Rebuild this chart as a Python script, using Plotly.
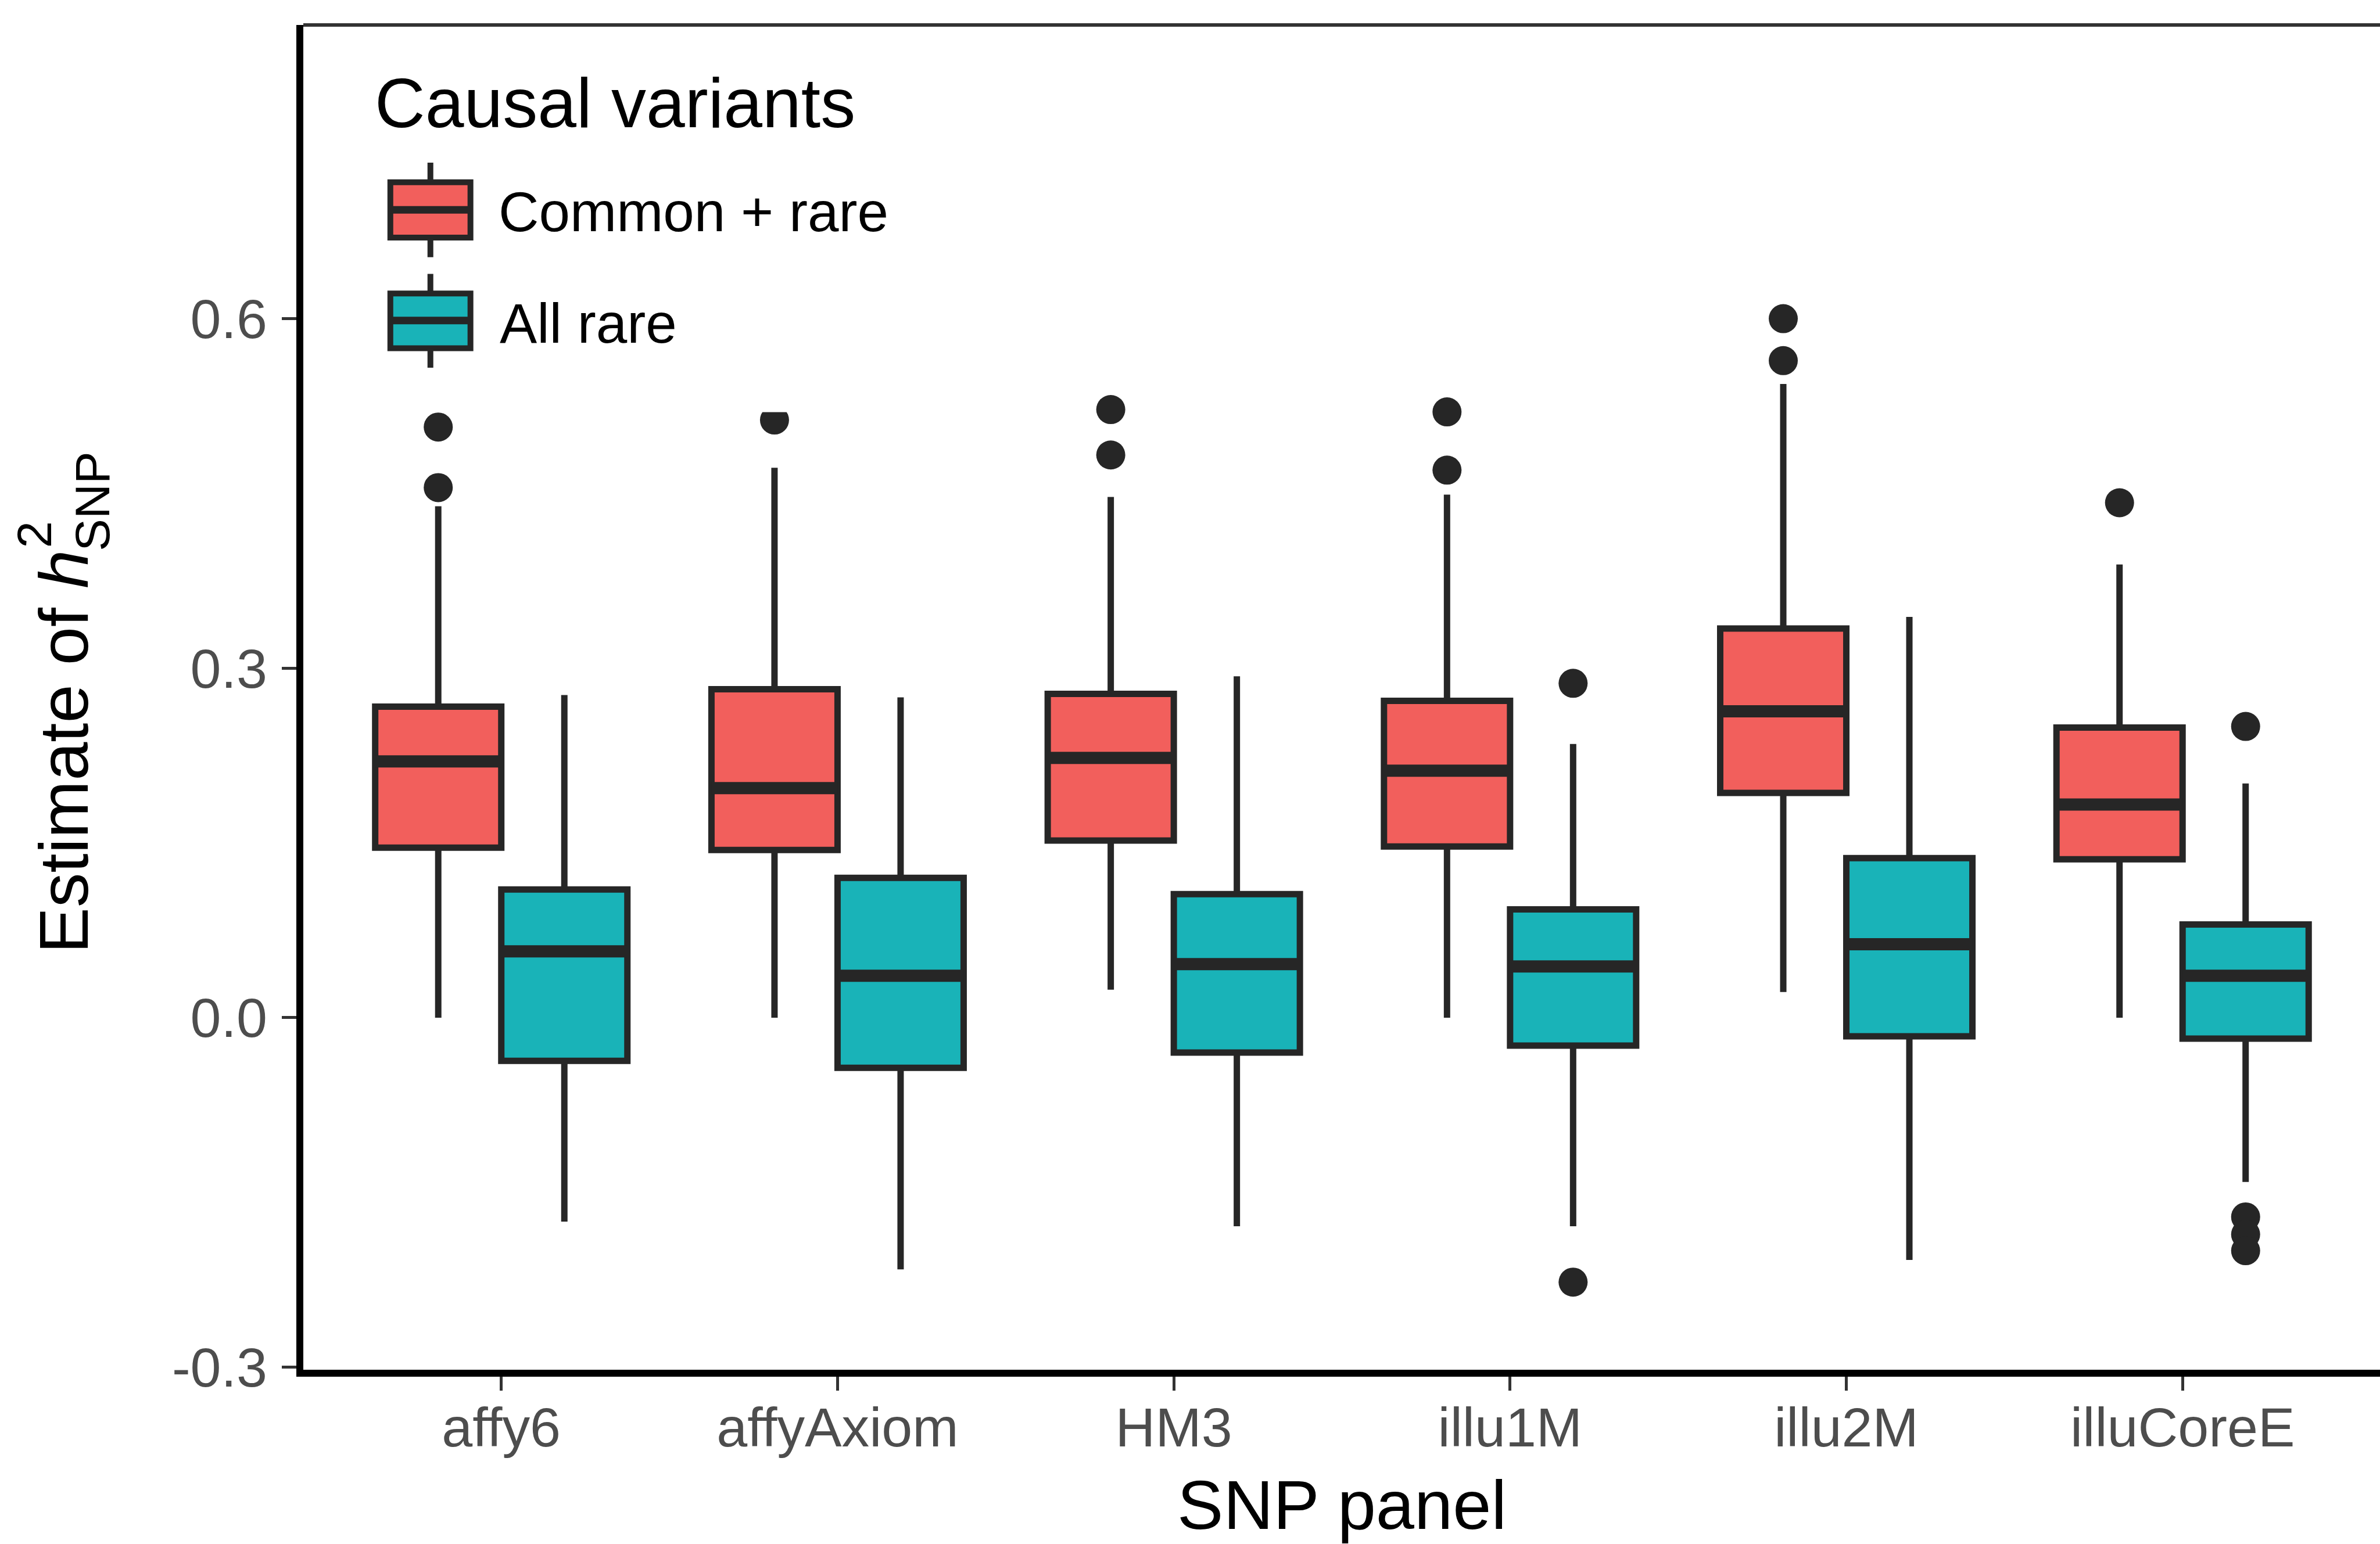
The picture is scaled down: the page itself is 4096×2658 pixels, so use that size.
import plotly.graph_objects as go

# ---- data -----------------------------------------------------------------
panels = ["affy6", "affyAxiom", "HM3", "illu1M", "illu2M", "illuCoreE"]

# Causal variants: Common + rare
cr_lower = [0.0, 0.0, 0.024, 0.0, 0.022, 0.0]
cr_q1 = [0.146, 0.144, 0.152, 0.147, 0.193, 0.136]
cr_median = [0.220, 0.197, 0.223, 0.212, 0.263, 0.183]
cr_q3 = [0.267, 0.282, 0.278, 0.272, 0.334, 0.249]
cr_upper = [0.439, 0.472, 0.447, 0.449, 0.544, 0.389]
cr_out_panel = ["affy6", "affy6", "affyAxiom", "HM3", "HM3",
                "illu1M", "illu1M", "illu2M", "illu2M", "illuCoreE"]
cr_out_value = [0.507, 0.455, 0.513, 0.522, 0.483,
                0.520, 0.470, 0.600, 0.564, 0.442]

# Causal variants: All rare
ar_lower = [-0.175, -0.216, -0.179, -0.179, -0.208, -0.141]
ar_q1 = [-0.037, -0.043, -0.030, -0.024, -0.016, -0.018]
ar_median = [0.057, 0.036, 0.046, 0.044, 0.063, 0.036]
ar_q3 = [0.110, 0.120, 0.106, 0.093, 0.137, 0.080]
ar_upper = [0.277, 0.275, 0.293, 0.235, 0.344, 0.201]
ar_out_panel = ["illu1M", "illu1M", "illuCoreE", "illuCoreE", "illuCoreE", "illuCoreE"]
ar_out_value = [0.287, -0.227, 0.250, -0.171, -0.186, -0.200]

y_tickvals = [-0.3, 0.0, 0.3, 0.6]
y_ticktext = ["-0.3", "0.0", "0.3", "0.6"]

groups = ["Common + rare", "All rare"]
fills = ["#F25F5C", "#19B3B8"]

# ---- geometry ---------------------------------------------------------------
S = 0.992
W, H = 4096, 2658
PL, PR, PT, PB = 521.8, 4096.0, 42.7, 2358.0   # plot area in pixels
Y0_PX, Y_UNIT = 1766 * S, 2022 * S
X0_PX, X_UNIT = 869.5 * S, 583.4 * S


def yval(py):
    return (Y0_PX - py) / Y_UNIT


def xval(px):
    return (px - X0_PX) / X_UNIT


def pxp(x):  # design pixel -> paper x
    return (x * S - PL) / (PR - PL)


def pyp(y):  # design pixel -> paper y
    return (PB - y * S) / (PB - PT)


FONT = "Liberation Sans, Arial, Helvetica, sans-serif"
INK = "#262626"
BOX_W = 0.375
OFFSET = [-BOX_W / 2, BOX_W / 2]

fig = go.Figure()

stats = [
    (cr_lower, cr_q1, cr_median, cr_q3, cr_upper, cr_out_panel, cr_out_value),
    (ar_lower, ar_q1, ar_median, ar_q3, ar_upper, ar_out_panel, ar_out_value),
]

for g, (lo, q1, med, q3, hi, op, ov) in enumerate(stats):
    xs = [i + OFFSET[g] for i in range(len(panels))]
    fig.add_trace(go.Box(
        x=xs, q1=q1, median=med, q3=q3, lowerfence=lo, upperfence=hi,
        width=BOX_W, whiskerwidth=0, boxpoints=False,
        fillcolor=fills[g], line=dict(color=INK, width=11),
        name=groups[g], showlegend=False, hoverinfo="skip",
    ))
    # heavier median bar, as in ggplot2
    mx, my = [], []
    for x, m in zip(xs, med):
        mx += [x - BOX_W / 2, x + BOX_W / 2, None]
        my += [m, m, None]
    fig.add_trace(go.Scatter(
        x=mx, y=my, mode="lines", line=dict(color=INK, width=21),
        showlegend=False, hoverinfo="skip",
    ))
    fig.add_trace(go.Scatter(
        x=[panels.index(p) + OFFSET[g] for p in op], y=ov, mode="markers",
        marker=dict(color=INK, size=50, line=dict(width=0)),
        showlegend=False, hoverinfo="skip",
    ))

# ---- legend (drawn inside panel) -------------------------------------------
shapes = [
    # top border of panel
    dict(type="line", xref="paper", yref="paper", x0=0, x1=1, y0=1, y1=1,
         line=dict(color="#333333", width=6)),
    # legend background
    dict(type="rect", xref="paper", yref="paper", layer="above",
         x0=pxp(560), x1=pxp(1600), y0=pyp(715), y1=pyp(80),
         fillcolor="white", line=dict(width=0)),
]
keys = [(316, 412, 364, 282, 446), (509, 604, 556, 475, 638)]
for g, (top, bot, mid, wt, wb) in enumerate(keys):
    xc = 746.5
    shapes.append(dict(type="line", xref="paper", yref="paper", layer="above",
                       x0=pxp(xc), x1=pxp(xc), y0=pyp(wt), y1=pyp(wb),
                       line=dict(color=INK, width=10)))
    shapes.append(dict(type="rect", xref="paper", yref="paper", layer="above",
                       x0=pxp(677), x1=pxp(816), y0=pyp(bot), y1=pyp(top),
                       fillcolor=fills[g], line=dict(color=INK, width=10)))
    shapes.append(dict(type="line", xref="paper", yref="paper", layer="above",
                       x0=pxp(677), x1=pxp(816), y0=pyp(mid), y1=pyp(mid),
                       line=dict(color=INK, width=13)))

ann = [
    dict(text="Causal variants", x=pxp(648), y=pyp(178.5), xanchor="left",
         yanchor="middle", font=dict(size=121 * S, color="black")),
    dict(text=groups[0], x=pxp(863), y=pyp(367.5), xanchor="left",
         yanchor="middle", font=dict(size=97 * S, color="black")),
    dict(text=groups[1], x=pxp(865), y=pyp(560.5), xanchor="left",
         yanchor="middle", font=dict(size=97 * S, color="black")),
    # axis titles
    dict(text="SNP panel", x=pxp(2328), y=pyp(2611), xanchor="center",
         yanchor="middle", font=dict(size=120 * S, color="black")),
    dict(text="Estimate of <i>h</i>", x=pxp(110.4), y=pyp(1304), textangle=-90,
         xanchor="center", yanchor="middle", font=dict(size=120 * S, color="black")),
    dict(text="2", x=pxp(60), y=pyp(928), textangle=-90,
         xanchor="center", yanchor="middle", font=dict(size=84 * S, color="black")),
    dict(text="SNP", x=pxp(161), y=pyp(869.5), textangle=-90,
         xanchor="center", yanchor="middle", font=dict(size=84 * S, color="black")),
]
for a in ann:
    a.update(xref="paper", yref="paper", showarrow=False, font_family=FONT)

fig.update_layout(
    width=W, height=H, autosize=False,
    margin=dict(l=PL, r=W - PR, t=PT, b=H - PB, pad=0),
    paper_bgcolor="white", plot_bgcolor="white",
    font=dict(family=FONT),
    shapes=shapes, annotations=ann, showlegend=False,
    boxmode="overlay",
)
fig.update_xaxes(
    range=[xval(PL), xval(PR)], tickvals=list(range(len(panels))), ticktext=panels,
    showline=True, linecolor="black", linewidth=12, showgrid=False, zeroline=False,
    ticks="outside", ticklen=24, tickwidth=5, tickcolor="#333333",
    ticklabelstandoff=-18,
    tickfont=dict(size=96 * S, color="#4D4D4D", family=FONT),
)
fig.update_yaxes(
    range=[yval(PB), yval(PT)], tickvals=y_tickvals, ticktext=y_ticktext,
    showline=True, linecolor="black", linewidth=12, showgrid=False, zeroline=False,
    ticks="outside", ticklen=25, tickwidth=5, tickcolor="#333333",
    ticklabelstandoff=6,
    tickfont=dict(size=96 * S, color="#4D4D4D", family=FONT),
)

fig.write_html("out.html")
